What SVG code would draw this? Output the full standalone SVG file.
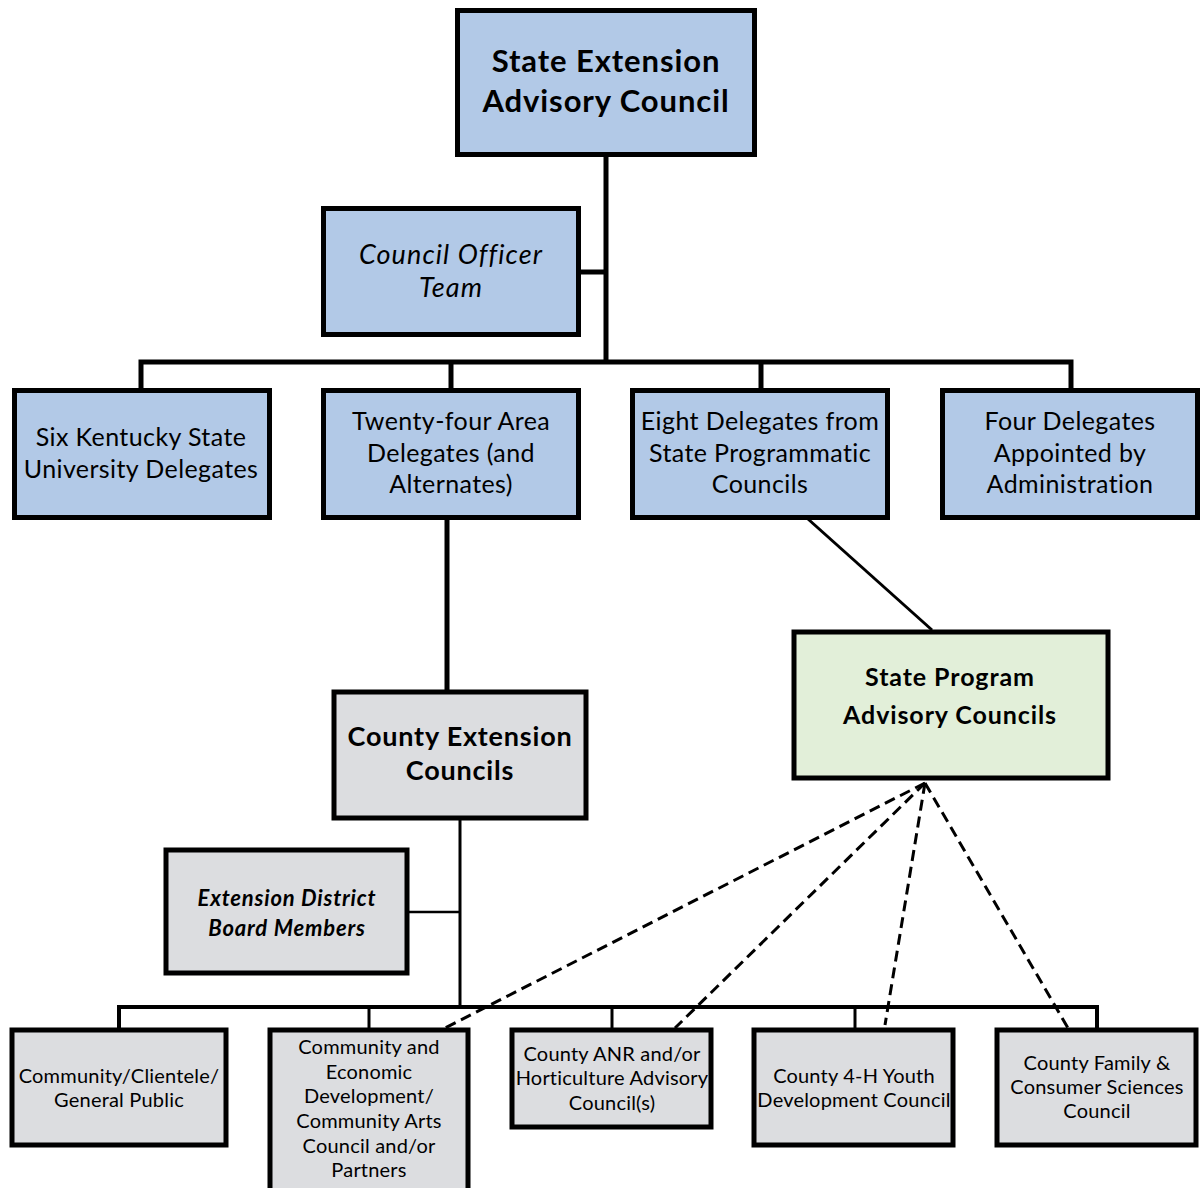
<svg xmlns="http://www.w3.org/2000/svg" width="1203" height="1188" viewBox="0 0 1203 1188">
<style>
.box{stroke:#000;stroke-width:5}
.blue{fill:#b2c9e7}
.grey{fill:#dcdde0}
.green{fill:#e2efd9}
.t{font-family:Lato,"Open Sans","Liberation Sans",sans-serif;fill:#000;text-anchor:middle}
.b{font-weight:bold}
.i{font-style:italic}
.conn line,.conn polyline{stroke:#000;fill:none}
.dash{stroke:#000;stroke-width:3;stroke-dasharray:11 6;fill:none}
</style>
<rect width="1203" height="1188" fill="#fff"/>
<g class="conn" id="connectors">
<line x1="606" y1="156" x2="606" y2="362" stroke-width="5"/>
<line x1="580" y1="272" x2="606" y2="272" stroke-width="5"/>
<polyline points="141,389 141,362 1071,362 1071,389" stroke-width="5"/>
<line x1="451" y1="362" x2="451" y2="389" stroke-width="5"/>
<line x1="761" y1="362" x2="761" y2="389" stroke-width="5"/>
<line x1="447" y1="519" x2="447" y2="690" stroke-width="5"/>
<line x1="808" y1="519" x2="932" y2="630" stroke-width="3"/>
<line x1="460" y1="820" x2="460" y2="1007" stroke-width="3"/>
<line x1="409" y1="912" x2="460" y2="912" stroke-width="2.5"/>
<polyline points="119,1028 119,1007 1097,1007 1097,1028" stroke-width="4"/>
<line x1="369" y1="1007" x2="369" y2="1028" stroke-width="3"/>
<line x1="612" y1="1007" x2="612" y2="1028" stroke-width="3"/>
<line x1="855" y1="1007" x2="855" y2="1028" stroke-width="3"/>
<path class="dash" d="M925,783 L445,1028"/>
<path class="dash" d="M925,783 L675,1028"/>
<path class="dash" d="M925,783 L885,1025"/>
<path class="dash" d="M925,783 L1068,1028"/>
</g>
<g id="state-extension-advisory-council">
<rect class="box blue" x="457.5" y="10.5" width="297" height="144"/>
<text class="t b" x="606" y="72" font-size="31" letter-spacing="0.9">State Extension</text>
<text class="t b" x="606" y="112" font-size="31" letter-spacing="0.9">Advisory Council</text>
</g>
<g id="council-officer-team">
<rect class="box blue" x="323.5" y="208.5" width="255" height="126"/>
<text class="t i" x="451" y="264" font-size="27" letter-spacing="1.1">Council Officer</text>
<text class="t i" x="451" y="297" font-size="27" letter-spacing="1.1">Team</text>
</g>
<g id="six-kentucky">
<rect class="box blue" x="14.5" y="390.5" width="255" height="127"/>
<text class="t" x="141" y="446" font-size="25" letter-spacing="0.4">Six Kentucky State</text>
<text class="t" x="141" y="478" font-size="25" letter-spacing="0.4">University Delegates</text>
</g>
<g id="twenty-four">
<rect class="box blue" x="323.5" y="390.5" width="255" height="127"/>
<text class="t" x="451" y="430" font-size="25" letter-spacing="0.4">Twenty-four Area</text>
<text class="t" x="451" y="462" font-size="25" letter-spacing="0.4">Delegates (and</text>
<text class="t" x="451" y="493" font-size="25" letter-spacing="0.4">Alternates)</text>
</g>
<g id="eight-delegates">
<rect class="box blue" x="632.5" y="390.5" width="255" height="127"/>
<text class="t" x="760" y="430" font-size="25" letter-spacing="0.4">Eight Delegates from</text>
<text class="t" x="760" y="462" font-size="25" letter-spacing="0.4">State Programmatic</text>
<text class="t" x="760" y="493" font-size="25" letter-spacing="0.4">Councils</text>
</g>
<g id="four-delegates">
<rect class="box blue" x="942.5" y="390.5" width="255" height="127"/>
<text class="t" x="1070" y="430" font-size="25" letter-spacing="0.4">Four Delegates</text>
<text class="t" x="1070" y="462" font-size="25" letter-spacing="0.4">Appointed by</text>
<text class="t" x="1070" y="493" font-size="25" letter-spacing="0.4">Administration</text>
</g>
<g id="county-extension-councils">
<rect class="box grey" x="334" y="692" width="252" height="126"/>
<text class="t b" x="460" y="746" font-size="27" letter-spacing="0.8">County Extension</text>
<text class="t b" x="460" y="780" font-size="27" letter-spacing="0.8">Councils</text>
</g>
<g id="state-program-advisory-councils">
<rect class="box green" x="794" y="632" width="314" height="146"/>
<text class="t b" x="950" y="686" font-size="25" letter-spacing="0.9">State Program</text>
<text class="t b" x="950" y="724" font-size="25" letter-spacing="0.9">Advisory Councils</text>
</g>
<g id="extension-district-board">
<rect class="box grey" x="166" y="850" width="241" height="123" stroke-width="4"/>
<text class="t b i" x="287" y="906" font-size="22" letter-spacing="0.8">Extension District</text>
<text class="t b i" x="287" y="936" font-size="22" letter-spacing="0.8">Board Members</text>
</g>
<g id="community-clientele">
<rect class="box grey" x="12" y="1030" width="214" height="115" stroke-width="4"/>
<text class="t" x="119" y="1083" font-size="20" letter-spacing="0.2">Community/Clientele/</text>
<text class="t" x="119" y="1107" font-size="20" letter-spacing="0.2">General Public</text>
</g>
<g id="community-economic">
<rect class="box grey" x="270" y="1030" width="198" height="170" stroke-width="4"/>
<text class="t" x="369" y="1054" font-size="20" letter-spacing="0.2">Community and</text>
<text class="t" x="369" y="1079" font-size="20" letter-spacing="0.2">Economic</text>
<text class="t" x="369" y="1103" font-size="20" letter-spacing="0.2">Development/</text>
<text class="t" x="369" y="1128" font-size="20" letter-spacing="0.2">Community Arts</text>
<text class="t" x="369" y="1153" font-size="20" letter-spacing="0.2">Council and/or</text>
<text class="t" x="369" y="1177" font-size="20" letter-spacing="0.2">Partners</text>
</g>
<g id="county-anr">
<rect class="box grey" x="512" y="1030" width="199" height="97" stroke-width="4"/>
<text class="t" x="612" y="1061" font-size="20" letter-spacing="0.2">County ANR and/or</text>
<text class="t" x="612" y="1085" font-size="20" letter-spacing="0.2">Horticulture Advisory</text>
<text class="t" x="612" y="1110" font-size="20" letter-spacing="0.2">Council(s)</text>
</g>
<g id="county-4h">
<rect class="box grey" x="754" y="1030" width="199" height="115" stroke-width="4"/>
<text class="t" x="854" y="1083" font-size="20" letter-spacing="0.2">County 4-H Youth</text>
<text class="t" x="854" y="1107" font-size="20" letter-spacing="0.2">Development Council</text>
</g>
<g id="county-family">
<rect class="box grey" x="997" y="1030" width="199" height="115" stroke-width="4"/>
<text class="t" x="1097" y="1070" font-size="20" letter-spacing="0.2">County Family &amp;</text>
<text class="t" x="1097" y="1094" font-size="20" letter-spacing="0.2">Consumer Sciences</text>
<text class="t" x="1097" y="1118" font-size="20" letter-spacing="0.2">Council</text>
</g>
</svg>
